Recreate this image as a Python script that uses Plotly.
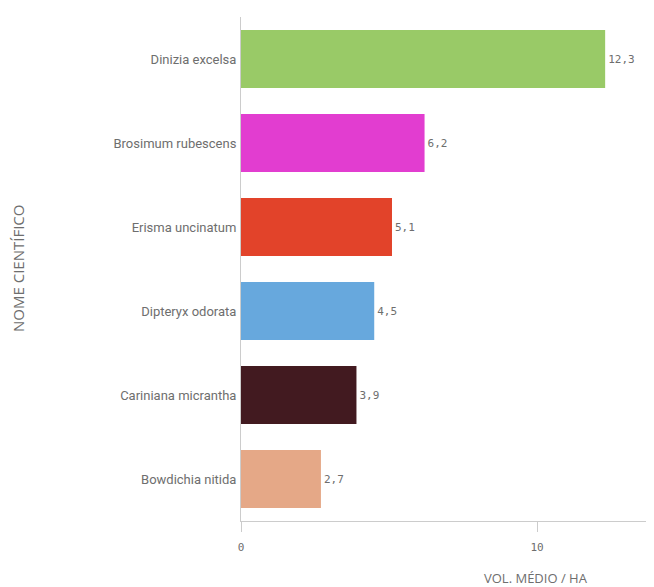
import plotly.graph_objects as go

species = ["Dinizia excelsa", "Brosimum rubescens", "Erisma uncinatum",
           "Dipteryx odorata", "Cariniana micrantha", "Bowdichia nitida"]
volumes = [12.3, 6.2, 5.1, 4.5, 3.9, 2.7]
colors = ["#99CA67", "#E23DD0", "#E2432A", "#67A8DD", "#421A20", "#E5A887"]
x_ticks = [0, 10]

labels = [f"{v:.1f}".replace(".", ",") for v in volumes]

# page body has an 8px margin; figure sized to fit the 654x587 window
W, H = 646, 579
L, T, B, R = 233, 9, 66, 0
pw, ph = W - L - R, H - T - B

fig = go.Figure(go.Bar(
    x=volumes, y=species, orientation="h",
    marker=dict(color=colors, line=dict(width=0)),
    text=labels, textposition="outside", cliponaxis=False,
    textfont=dict(family="DejaVu Sans Mono", size=11, color="#6E6E6E"),
    hoverinfo="skip",
))

fig.update_layout(
    width=W, height=H,
    margin=dict(l=L, r=R, t=T, b=B, pad=0),
    paper_bgcolor="white", plot_bgcolor="white",
    bargap=0.31, showlegend=False,
    font=dict(family="Roboto", color="#6E6E6E"),
)
fig.update_yaxes(
    autorange="reversed", showline=True, linecolor="#CCCCCC", linewidth=1,
    ticks="", showgrid=False, tickfont=dict(family="Roboto", size=13, color="#6E6E6E"),
    ticklabelstandoff=1,
)
fig.update_xaxes(
    range=[0, 13.95], showline=True, linecolor="#CCCCCC", linewidth=1,
    showgrid=False, zeroline=False, tickvals=x_ticks, ticktext=[str(t) for t in x_ticks],
    ticks="outside", ticklen=10, tickcolor="#CCCCCC",
    tickfont=dict(family="DejaVu Sans Mono", size=11, color="#6E6E6E"),
    ticklabelstandoff=6,
)
fig.add_annotation(text="VOL. MÉDIO / HA", xref="paper", yref="paper",
                   x=(536 - 241) / pw, y=-(578 - 521) / ph, xanchor="center", yanchor="middle",
                   showarrow=False, font=dict(family="Open Sans", size=13, color="#6E6E6E"))
fig.add_annotation(text="NOME CIENTÍFICO", xref="paper", yref="paper",
                   x=-(241 - 18) / pw, y=0.5, xanchor="center", yanchor="middle", textangle=-90,
                   showarrow=False, font=dict(family="Open Sans", size=15, color="#6E6E6E"))

fig.write_html("out.html")
